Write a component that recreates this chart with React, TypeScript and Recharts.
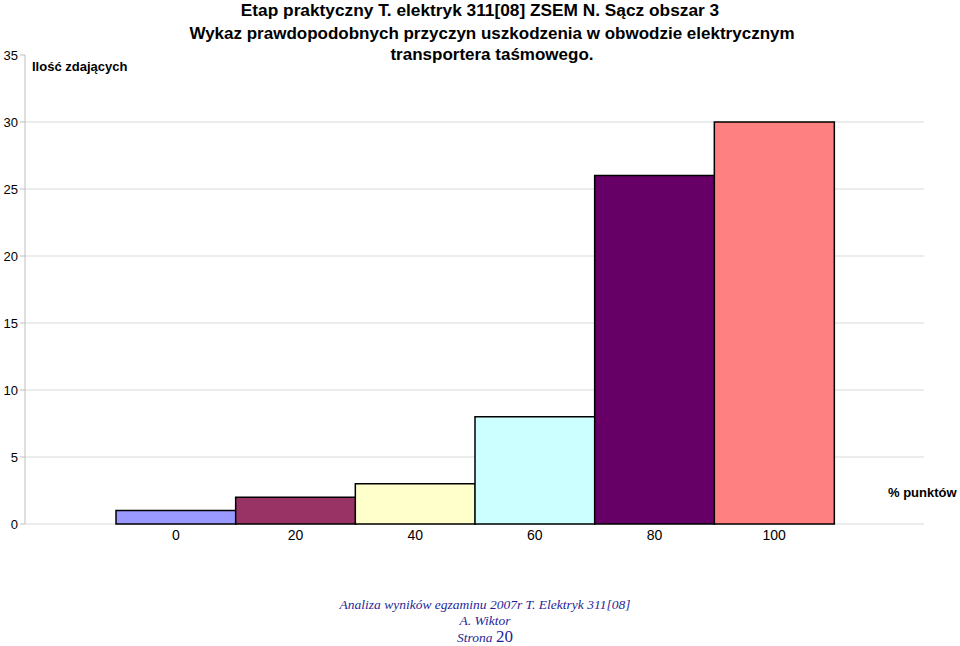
import { BarChart, Bar, XAxis, YAxis, CartesianGrid, Cell } from "recharts";

const categories = ["0", "20", "40", "60", "80", "100"];
const counts = [1, 2, 3, 8, 26, 30];
const yTicks = [0, 5, 10, 15, 20, 25, 30, 35];
const gridValues = [0, 5, 10, 15, 20, 25, 30];

const COLORS = ["#9999FF", "#993366", "#FFFFCC", "#CCFFFF", "#660066", "#FF8080"];

const data = categories.map((c, i) => ({ name: c, count: counts[i] }));

const sans = "'Liberation Sans', Arial, sans-serif";
const serif = "'Liberation Serif', 'Times New Roman', serif";

export default function App() {
  return (
    <div style={{ position: "relative", width: 960, height: 646, background: "#fff", fontFamily: sans }}>
      <style>{`body{margin:0}`}</style>
      <BarChart
        width={960}
        height={646}
        data={data}
        margin={{ top: 55, right: 36, bottom: 92, left: 0 }}
        barCategoryGap={0}
      >
        <CartesianGrid vertical={false} stroke="#d9d9d9" horizontalValues={gridValues} />
        <XAxis
          dataKey="name"
          height={30}
          padding={{ left: 91, right: 90 }}
          axisLine={false}
          tickLine={false}
          tickSize={0}
          tickMargin={6}
          tick={{ fill: "#000", fontSize: 14, fontFamily: sans }}
        />
        <YAxis
          width={25}
          domain={[0, 35]}
          ticks={yTicks}
          interval={0}
          axisLine={{ stroke: "#bfbfbf" }}
          tickLine={{ stroke: "#bfbfbf" }}
          tickSize={5}
          tick={{ fill: "#000", fontSize: 13, fontFamily: sans }}
        />
        <Bar dataKey="count" stroke="#000" strokeWidth={1.5} isAnimationActive={false}>
          {data.map((_, i) => (
            <Cell key={i} fill={COLORS[i % COLORS.length]} />
          ))}
        </Bar>
      </BarChart>

      <div style={{ position: "absolute", left: 0, top: 2, width: 960, textAlign: "center", fontWeight: "bold", fontSize: 17.3, lineHeight: "16px" }}>
        Etap praktyczny T. elektryk 311[08] ZSEM N. Sącz obszar 3
      </div>
      <div style={{ position: "absolute", left: 24, top: 23, width: 936, textAlign: "center", fontWeight: "bold", fontSize: 17, lineHeight: "21px" }}>
        Wykaz prawdopodobnych przyczyn uszkodzenia w obwodzie elektrycznym
        <br />
        transportera taśmowego.
      </div>
      <div style={{ position: "absolute", left: 32, top: 59, fontWeight: "bold", fontSize: 13 }}>Ilość zdających</div>
      <div style={{ position: "absolute", left: 888, top: 485, fontWeight: "bold", fontSize: 13 }}>% punktów</div>

      <div
        style={{
          position: "absolute",
          left: 0,
          top: 597,
          width: 970,
          textAlign: "center",
          fontFamily: serif,
          fontStyle: "italic",
          color: "#1f1f99",
          fontSize: 13.5,
          lineHeight: "16px",
        }}
      >
        Analiza wyników egzaminu 2007r T. Elektryk 311[08]
        <br />
        A. Wiktor
        <br />
        Strona <span style={{ fontStyle: "normal", fontSize: 17 }}>20</span>
      </div>
    </div>
  );
}
